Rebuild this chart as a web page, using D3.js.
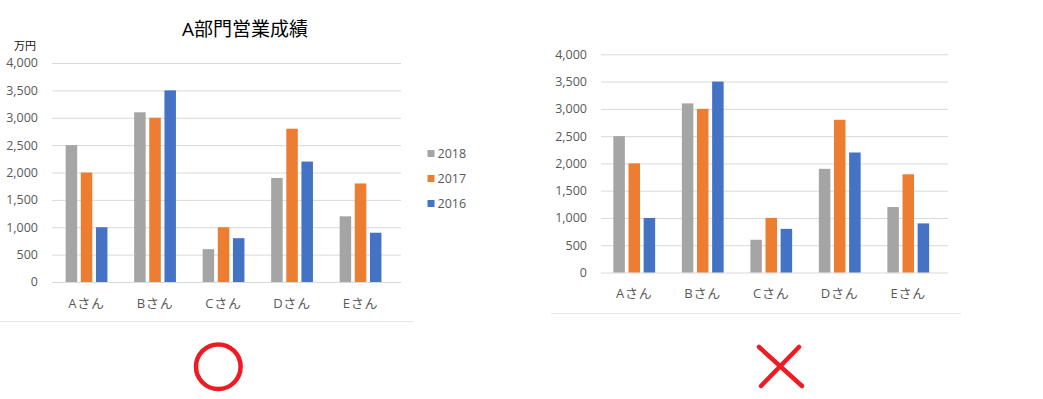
<!DOCTYPE html>
<html>
<head>
<meta charset="utf-8">
<script src="https://cdn.jsdelivr.net/npm/d3@7"></script>
<style>
  html, body { margin: 0; padding: 0; background: #fff; }
  svg { display: block; }
  text { font-family: "Open Sans", "Noto Sans CJK JP", sans-serif; }
</style>
</head>
<body>
<svg id="chart" width="1043" height="399"></svg>
<script>
// ── Data ─────────────────────────────────────────────────────
const CATEGORIES = ['Aさん', 'Bさん', 'Cさん', 'Dさん', 'Eさん'];
const SERIES     = ['2018', '2017', '2016'];
const VALUES_2018 = [2500, 3100, 600, 1900, 1200];
const VALUES_2017 = [2000, 3000, 1000, 2800, 1800];
const VALUES_2016 = [1000, 3500, 800, 2200, 900];
const Y_TICKS = [0, 500, 1000, 1500, 2000, 2500, 3000, 3500, 4000];

const COLORS = { '2018': '#a5a5a5', '2017': '#ed7d31', '2016': '#4472c4' };
const TEXT_GRAY = '#595959';

const seriesValues = { '2018': VALUES_2018, '2017': VALUES_2017, '2016': VALUES_2016 };
const rows = CATEGORIES.map((c, i) => ({
  cat: c,
  vals: SERIES.map(s => ({ key: s, value: seriesValues[s][i] })),
}));

const svg = d3.select('#chart');

// ── One bar chart ────────────────────────────────────────────
function drawChart(opt) {
  const g = svg.append('g');

  const x = d3.scaleBand().domain(CATEGORIES).range([opt.bandL, opt.bandR])
    .paddingInner(0.39).paddingOuter(0.195);
  const xs = d3.scaleBand().domain(SERIES).range([0, x.bandwidth()]).paddingInner(0.24);
  const y = d3.scaleLinear().domain([0, 4000]).range([opt.y0, opt.y4000]);

  // gridlines
  g.append('g').selectAll('line')
    .data(Y_TICKS)
    .join('line')
    .attr('x1', opt.gridL).attr('x2', opt.gridR)
    .attr('y1', d => y(d) + 0.5).attr('y2', d => y(d) + 0.5)
    .attr('stroke', '#d9d9d9').attr('stroke-width', 1);

  // y tick labels
  g.append('g').selectAll('text')
    .data(Y_TICKS)
    .join('text')
    .attr('x', opt.tickX)
    .attr('y', d => y(d))
    .attr('dy', '0.35em')
    .attr('text-anchor', 'end')
    .attr('fill', TEXT_GRAY)
    .attr('font-size', 12.5)
    .text(d3.format(','));

  // bars
  g.append('g').selectAll('g')
    .data(rows)
    .join('g')
    .attr('transform', d => `translate(${x(d.cat)},0)`)
    .selectAll('rect')
    .data(d => d.vals)
    .join('rect')
    .attr('x', d => xs(d.key))
    .attr('width', xs.bandwidth())
    .attr('y', d => y(d.value))
    .attr('height', d => y(0) - y(d.value))
    .attr('fill', d => COLORS[d.key]);

  // category labels
  g.append('g').selectAll('text')
    .data(CATEGORIES)
    .join('text')
    .attr('x', d => x(d) + x.bandwidth() / 2)
    .attr('y', opt.y0 + 21)
    .attr('dy', '0.35em')
    .attr('text-anchor', 'middle')
    .attr('fill', TEXT_GRAY)
    .attr('font-size', 13)
    .attr('letter-spacing', 0.8)
    .text(d => d);

  // chart area bottom border
  g.append('line')
    .attr('x1', opt.borderL).attr('x2', opt.borderR)
    .attr('y1', opt.borderY + 0.5).attr('y2', opt.borderY + 0.5)
    .attr('stroke', '#e3e3e3');

  if (opt.title) {
    g.append('text')
      .attr('x', opt.titleX).attr('y', 36)
      .attr('text-anchor', 'middle')
      .attr('fill', '#000')
      .attr('font-size', 19)
      .attr('font-family', '"Noto Sans CJK JP", sans-serif')
      .text(opt.title);
  }

  if (opt.unit) {
    g.append('text')
      .attr('x', 14).attr('y', 46)
      .attr('dy', '0.35em')
      .attr('fill', '#111')
      .attr('font-size', 11)
      .attr('font-family', '"Noto Sans CJK JP", sans-serif')
      .text(opt.unit);
  }

  if (opt.legend) {
    const lg = g.append('g').selectAll('g')
      .data(SERIES)
      .join('g')
      .attr('transform', (d, i) => `translate(${opt.legendX},${opt.legendY + i * 25})`);
    lg.append('rect')
      .attr('x', 0).attr('y', -3.5)
      .attr('width', 7).attr('height', 7)
      .attr('fill', d => COLORS[d]);
    lg.append('text')
      .attr('x', 10).attr('y', 0)
      .attr('dy', '0.35em')
      .attr('fill', TEXT_GRAY)
      .attr('font-size', 12.5)
      .text(d => d);
  }
}

// left: with title, unit and legend
drawChart({
  bandL: 52.3, bandR: 394.8, gridL: 52, gridR: 401,
  y0: 282, y4000: 63, tickX: 38,
  borderL: 0, borderR: 413, borderY: 321,
  title: 'A部門営業成績', titleX: 245,
  unit: '万円',
  legend: true, legendX: 427.5, legendY: 153.5,
});

// right: bare chart
drawChart({
  bandL: 600, bandR: 942.5, gridL: 601, gridR: 948,
  y0: 272.5, y4000: 54.3, tickX: 587,
  borderL: 551, borderR: 961, borderY: 313,
});

// ── Marks: ○ and × ───────────────────────────────────────────
const RED = '#ed1c24';
svg.append('circle')
  .attr('cx', 218.3).attr('cy', 366.7).attr('r', 22.3)
  .attr('fill', 'none').attr('stroke', RED).attr('stroke-width', 4.5);

svg.append('g')
  .attr('stroke', RED).attr('stroke-width', 4.5).attr('stroke-linecap', 'round')
  .selectAll('line')
  .data([[759, 347, 802, 386], [799, 347, 761, 386]])
  .join('line')
  .attr('x1', d => d[0]).attr('y1', d => d[1])
  .attr('x2', d => d[2]).attr('y2', d => d[3]);
</script>
</body>
</html>
